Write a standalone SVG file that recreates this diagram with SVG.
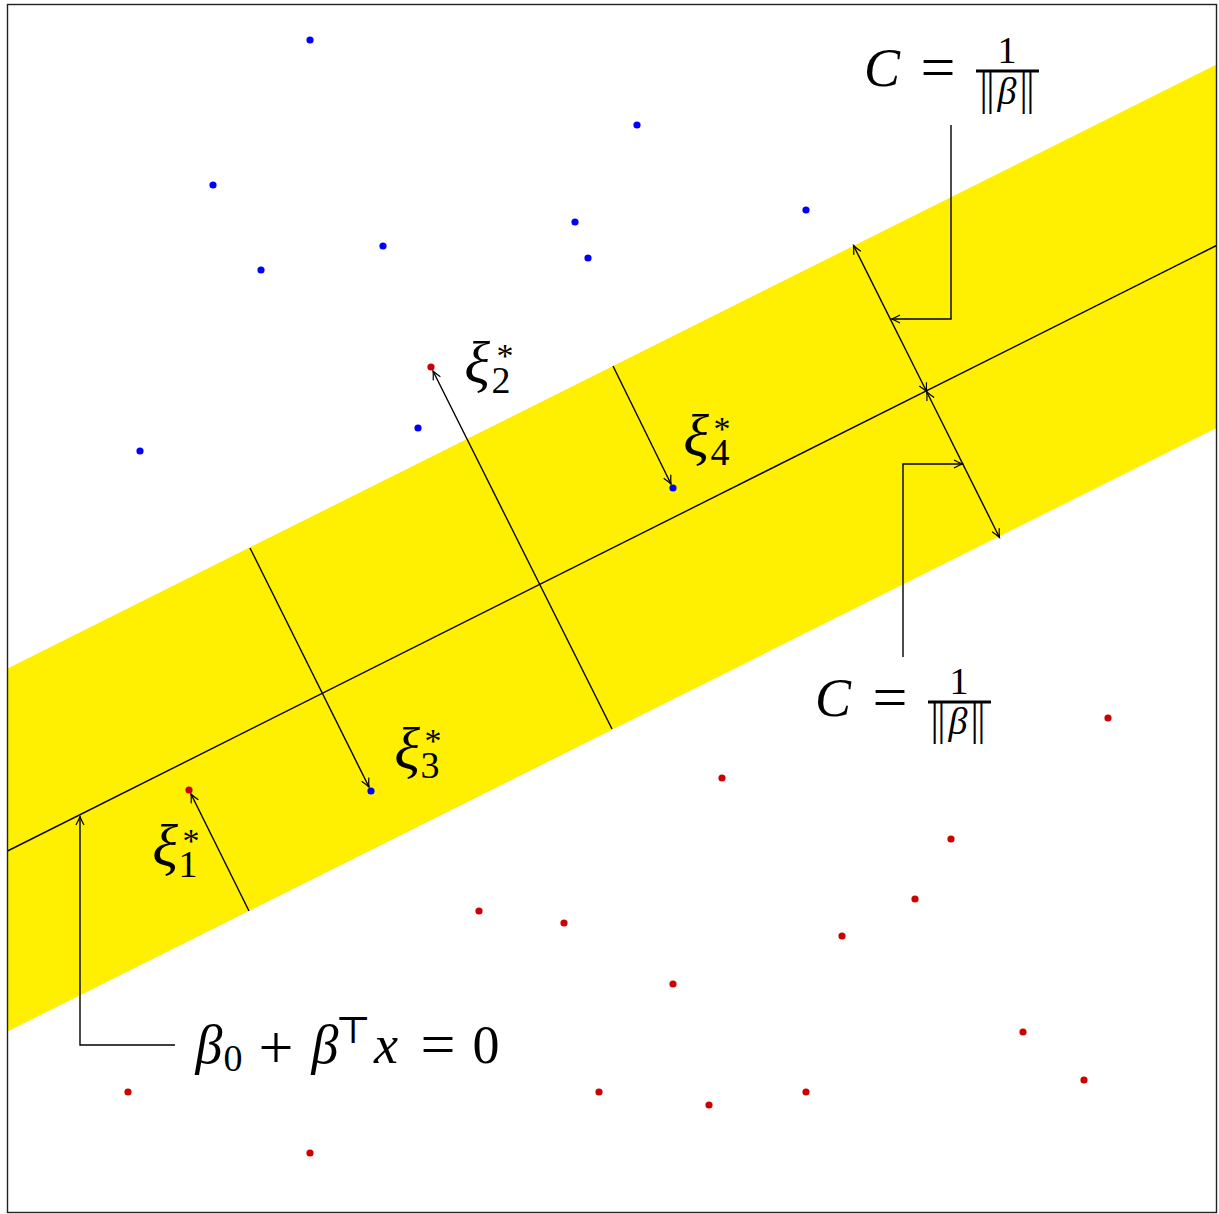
<svg xmlns="http://www.w3.org/2000/svg" width="1219" height="1214" viewBox="0 0 1219 1214">
<style>
.ln{stroke:#000;stroke-width:1.4;fill:none}
.bd{stroke:#222;stroke-width:1.4;fill:none}
.blue{fill:#0000ff}
.red{fill:#cc0000}
.m{font-family:"Liberation Serif","DejaVu Serif",serif;fill:#000;text-anchor:middle}
.it{font-style:italic}
.big{font-size:54px}
.op{font-size:62px}
.xi{font-size:60px}
.sm{font-size:38px}
.st{font-size:34px}
.nv{font-family:"DejaVu Sans ExtraLight","DejaVu Sans",sans-serif;font-weight:200;font-size:42px;font-style:normal}
</style>
<defs>
<marker id="ah" viewBox="-10 -6 12 12" markerWidth="12" markerHeight="12" refX="0" refY="0" orient="auto-start-reverse" markerUnits="userSpaceOnUse">
<path d="M-8.5,-4 Q-3,-1 0,0 Q-3,1 -8.5,4" fill="none" stroke="#000" stroke-width="1.2"/>
</marker>
</defs>
<rect width="1219" height="1214" fill="#fff"/>
<g id="band">
<polygon points="7.5,668.5 1216.5,64.5 1216.5,428 7.5,1031.5" fill="#fef000"/>
</g>
<g id="connectors">
<line id="hyperplane" class="ln" x1="7.5" y1="851" x2="1216.5" y2="245.5"/>
<line class="ln" x1="249" y1="911" x2="191" y2="794" marker-end="url(#ah)"/>
<line class="ln" x1="250" y1="548" x2="369" y2="787" marker-end="url(#ah)"/>
<line class="ln" x1="612" y1="729" x2="433" y2="371" marker-end="url(#ah)"/>
<line class="ln" x1="613" y1="366" x2="671" y2="484" marker-end="url(#ah)"/>
<line class="ln" x1="926.7" y1="391.7" x2="853.5" y2="245.5" marker-start="url(#ah)" marker-end="url(#ah)"/>
<line class="ln" x1="926.7" y1="391.7" x2="999.5" y2="537.5" marker-start="url(#ah)" marker-end="url(#ah)"/>
<polyline class="ln" points="951,125 951,319 891.5,319" marker-end="url(#ah)"/>
<polyline class="ln" points="903,657 903,464 962.5,464" marker-end="url(#ah)"/>
<polyline class="ln" points="175,1045 80,1045 80,816.5" marker-end="url(#ah)"/>
</g>
<g id="blue-points" class="blue">
<circle cx="310" cy="40" r="3.6"/>
<circle cx="637" cy="125" r="3.6"/>
<circle cx="213" cy="185" r="3.6"/>
<circle cx="383" cy="246" r="3.6"/>
<circle cx="261" cy="270" r="3.6"/>
<circle cx="575" cy="222" r="3.6"/>
<circle cx="588" cy="258" r="3.6"/>
<circle cx="806" cy="210" r="3.6"/>
<circle cx="140" cy="451" r="3.6"/>
<circle cx="418" cy="428" r="3.6"/>
<circle cx="673" cy="488" r="3.6"/>
<circle cx="371" cy="791" r="3.6"/>
</g>
<g id="red-points" class="red">
<circle cx="431" cy="367" r="3.6"/>
<circle cx="189" cy="790" r="3.6"/>
<circle cx="1108" cy="718" r="3.6"/>
<circle cx="722" cy="778" r="3.6"/>
<circle cx="951" cy="839" r="3.6"/>
<circle cx="915" cy="899" r="3.6"/>
<circle cx="842" cy="936" r="3.6"/>
<circle cx="479" cy="911" r="3.6"/>
<circle cx="564" cy="923" r="3.6"/>
<circle cx="673" cy="984" r="3.6"/>
<circle cx="1023" cy="1032" r="3.6"/>
<circle cx="1084" cy="1080" r="3.6"/>
<circle cx="128" cy="1092" r="3.6"/>
<circle cx="599" cy="1092" r="3.6"/>
<circle cx="709" cy="1105" r="3.6"/>
<circle cx="806" cy="1092" r="3.6"/>
<circle cx="310" cy="1153" r="3.6"/>
</g>
<g id="label-margin-top">
<text class="m it big" x="882" y="86">C</text>
<text class="m op" x="938" y="88">=</text>
<text class="m sm" x="1007" y="63">1</text>
<rect x="976" y="69.5" width="63" height="3" fill="#000"/>
<text class="m sm" x="1007" y="104"><tspan class="nv">‖</tspan><tspan class="it">β</tspan><tspan class="nv">‖</tspan></text>
</g>
<g id="label-margin-bottom">
<text class="m it big" x="833" y="716">C</text>
<text class="m op" x="890" y="718">=</text>
<text class="m sm" x="959" y="694">1</text>
<rect x="928" y="700.5" width="63" height="3" fill="#000"/>
<text class="m sm" x="958" y="734"><tspan class="nv">‖</tspan><tspan class="it">β</tspan><tspan class="nv">‖</tspan></text>
</g>
<g id="label-hyperplane">
<text class="m it big" x="209" y="1063">β</text>
<text class="m sm" x="233" y="1071">0</text>
<text class="m op" x="276" y="1068">+</text>
<text class="m it big" x="325" y="1063">β</text>
<text class="m sm" x="353" y="1043">⊤</text>
<text class="m it big" x="386" y="1063">x</text>
<text class="m op" x="438" y="1065">=</text>
<text class="m big" x="486" y="1063">0</text>
</g>
<g id="label-xi1">
<text class="m it xi" x="165" y="866">ξ</text>
<text class="m sm" x="188" y="877">1</text>
<text class="m st" x="191" y="852">*</text>
</g>
<g id="label-xi2">
<text class="m it xi" x="477" y="383">ξ</text>
<text class="m sm" x="501" y="393">2</text>
<text class="m st" x="505" y="367">*</text>
</g>
<g id="label-xi3">
<text class="m it xi" x="407" y="769">ξ</text>
<text class="m sm" x="430" y="778">3</text>
<text class="m st" x="433" y="752">*</text>
</g>
<g id="label-xi4">
<text class="m it xi" x="696" y="456">ξ</text>
<text class="m sm" x="720" y="465">4</text>
<text class="m st" x="722" y="440">*</text>
</g>
<rect id="frame" class="bd" x="7.5" y="4.5" width="1209" height="1208"/>
</svg>
